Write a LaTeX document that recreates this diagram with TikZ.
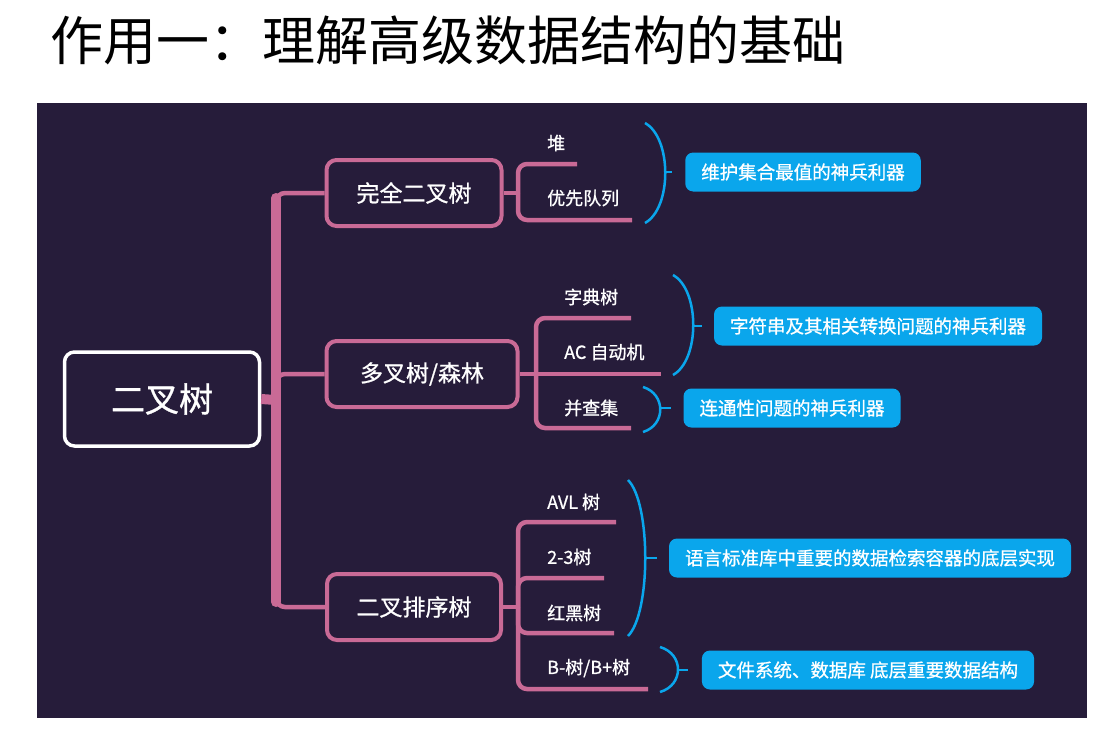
\documentclass[tikz,border=0pt]{standalone}
\usepackage{fontspec}
\setmainfont{Noto Sans CJK SC}
\newfontfamily\medio[FakeBold=0.9]{Noto Sans CJK SC}
\usepackage{tikz}
\usetikzlibrary{calc}

\definecolor{sfondo}{HTML}{261C3A}
\definecolor{rosa}{HTML}{C96A96}
\definecolor{azzurro}{HTML}{0AA6EC}

\begin{document}
\begin{tikzpicture}[x=1pt, y=-1pt,
    radice/.style={draw=white, line width=3.5pt, rounded corners=10pt, minimum width=195pt, minimum height=94pt, text=white, font=\fontsize{34}{40}\selectfont\medio},
    ramo/.style={draw=rosa, line width=4pt, rounded corners=10pt, minimum height=66pt, text=white, font=\fontsize{23}{28}\selectfont\medio},
    foglia/.style={anchor=west, inner sep=0pt, text=white, font=\fontsize{18}{22}\selectfont\medio},
    nota/.style={fill=azzurro, rounded corners=8pt, minimum height=39pt, inner xsep=16pt, text=white, font=\fontsize{18.5}{22}\selectfont\medio},
    linea/.style={rosa, line width=4.5pt, rounded corners=9pt},
    graffa/.style={azzurro, line width=2.5pt}]
    \useasboundingbox (0,0) rectangle (1115,731);
    \fill[white] (0,0) rectangle (1115,731);

    % titolo
    \node[font=\fontsize{53}{60}\selectfont] (titolo) at (448,40) {作用一：理解高级数据结构的基础};

    % sfondo
    \fill[sfondo] (37,103) rectangle (1087,718);

    % nodo radice e rami
    \node[radice] (bt) at (162,399) {二叉树};
    \node[ramo, minimum width=175pt] (cbt) at (414,193) {完全二叉树};
    \node[ramo, minimum width=191pt] (mtree) at (422,374) {多叉树/森林};
    \node[ramo, minimum width=174pt] (bst) at (414,607) {二叉排序树};

    % tronco
    \coordinate (t0) at (276,400);
    \coordinate (ttop) at (276,198);
    \coordinate (tbot) at (276,602);
    \draw[rosa, line width=10pt] (bt.east) -- (t0);
    \draw[rosa, line width=10pt, line cap=round] (ttop) -- (tbot);
    \draw[linea] (t0) |- (cbt.west);
    \draw[linea] (t0) |- (mtree.west);
    \draw[linea] (t0) |- (bst.west);

    % foglie del primo ramo
    \node[foglia] (heap) at (547,143) {堆};
    \node[foglia] (pq) at (547,198) {优先队列};
    \coordinate (f1) at (518,193);
    \coordinate (heap-e) at (577,164);
    \coordinate (pq-e) at (632,220);
    \draw[linea] (cbt.east) -- (f1);
    \draw[linea] (f1) |- (heap-e);
    \draw[linea] (f1) |- (pq-e);

    % foglie del secondo ramo
    \node[foglia] (trie) at (564,297) {字典树};
    \node[foglia] (ac) at (564,352) {AC 自动机};
    \node[foglia] (dsu) at (564,408) {并查集};
    \coordinate (f2) at (536,374);
    \coordinate (trie-e) at (631,318);
    \coordinate (ac-e) at (661,374);
    \coordinate (dsu-e) at (631,428);
    \draw[linea] (mtree.east) -- (f2);
    \draw[linea] (f2) |- (trie-e);
    \draw[linea] (f2) -- (ac-e);
    \draw[linea] (f2) |- (dsu-e);

    % foglie del terzo ramo
    \node[foglia] (avl) at (547,502) {AVL 树};
    \node[foglia] (tt) at (547,557) {2-3树};
    \node[foglia] (rb) at (547,613) {红黑树};
    \node[foglia] (bbt) at (547,668) {B-树/B+树};
    \coordinate (f3) at (518,607);
    \coordinate (avl-e) at (616,522);
    \coordinate (tt-e) at (604,578);
    \coordinate (rb-e) at (614,633);
    \coordinate (bbt-e) at (648,689);
    \draw[linea] (bst.east) -- (f3);
    \draw[linea] (f3) |- (avl-e);
    \draw[linea] (f3) |- (tt-e);
    \draw[linea] (f3) |- (rb-e);
    \draw[linea] (f3) |- (bbt-e);

    % note azzurre
    \node[nota] (n1) at (803,172) {维护集合最值的神兵利器};
    \node[nota] (n2) at (878,326) {字符串及其相关转换问题的神兵利器};
    \node[nota] (n3) at (792,408) {连通性问题的神兵利器};
    \node[nota] (n4) at (870,558) {语言标准库中重要的数据检索容器的底层实现};
    \node[nota] (n5) at (868,670) {文件系统、数据库 底层重要数据结构};

    % graffe
    \draw[graffa] (645,123) .. controls (672,138) and (672,208) .. (645,223);
    \draw[graffa] (665,172) -- ([xshift=-13pt]n1.west);
    \draw[graffa] (673,275) .. controls (700,290) and (700,360) .. (673,375);
    \draw[graffa] (693,326) -- ([xshift=-12pt]n2.west);
    \draw[graffa] (643,387) .. controls (666,394) and (666,425) .. (643,432);
    \draw[graffa] (660,408) -- ([xshift=-12pt]n3.west);
    \draw[graffa] (628,480) .. controls (651,503) and (651,613) .. (628,636);
    \draw[graffa] (645,558) -- ([xshift=-12pt]n4.west);
    \draw[graffa] (660,647) .. controls (684,654) and (684,685) .. (660,692);
    \draw[graffa] (678,670) -- ([xshift=-14pt]n5.west);
\end{tikzpicture}
\end{document}
